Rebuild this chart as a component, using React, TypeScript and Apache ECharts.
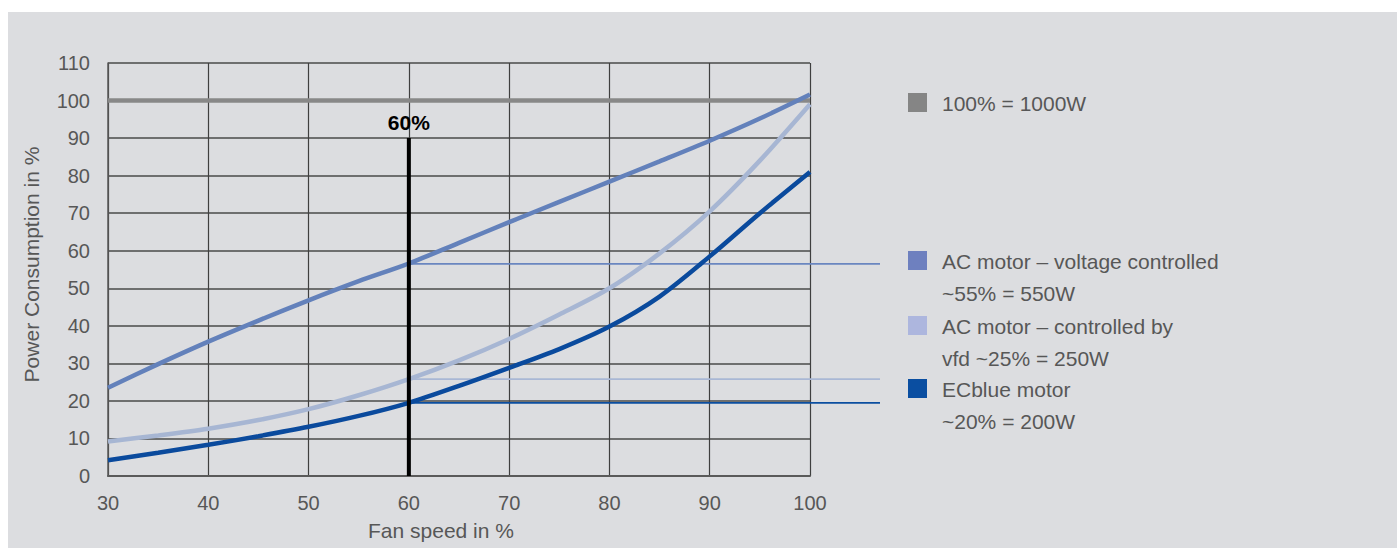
import React, { useEffect, useRef } from "react";
import * as echarts from "echarts";

const xTicks = [30, 40, 50, 60, 70, 80, 90, 100];
const speeds = [30, 35, 40, 45, 50, 55, 60, 65, 70, 75, 80, 85, 90, 95, 100];
const acVoltage = [23.5, 29.8, 35.8, 41.4, 46.8, 51.9, 56.6, 62.1, 67.6, 73, 78.4, 83.8, 89.3, 95.2, 101.6];
const acVfd = [9.2, 10.8, 12.6, 14.9, 17.8, 21.5, 25.8, 30.8, 36.5, 43, 50, 59.3, 70.5, 84, 99];
const ecBlue = [4.2, 6.2, 8.3, 10.6, 13.1, 16, 19.5, 24, 28.8, 33.8, 39.8, 47.8, 58.5, 70, 81];
const fullPower = 100;
const markSpeed = 60;
const markTop = 90;
const refLevels = { voltage: 56.5, vfd: 25.8, ec: 19.5 };
const refEnd = 107;
const legendItems = [
  { lines: ["100% = 1000W"], color: "#858585" },
  { lines: ["AC motor \u2013 voltage controlled", "~55% = 550W"], color: "#6e80bf" },
  { lines: ["AC motor \u2013 controlled by", "vfd ~25% = 250W"], color: "#adb6de" },
  { lines: ["ECblue motor", "~20% = 200W"], color: "#0a4ea1" },
];

const FONT = "'Liberation Sans', Arial, sans-serif";
const TXT = "#575757";

export default function App() {
  const ref = useRef<HTMLDivElement>(null);
  useEffect(() => {
    if (!ref.current) return;
    const chart = echarts.init(ref.current, null, { renderer: "svg" });
    const pair = (ys: number[]) => speeds.map((s, i) => [s, ys[i]]);
    const legendTops = [81, 239, 304, 367];
    const graphic: any[] = [];
    legendItems.forEach((it, i) => {
      const top = legendTops[i];
      graphic.push({
        type: "rect",
        shape: { x: 900, y: top, width: 19, height: 19 },
        style: { fill: it.color },
      });
      it.lines.forEach((ln, j) => {
        graphic.push({
          type: "text",
          x: 934,
          y: top + 10 + j * 32,
          style: {
            text: ln,
            fill: TXT,
            font: `21px ${FONT}`,
            textVerticalAlign: "middle",
            verticalAlign: "middle",
          },
        });
      });
    });

    const curve = (ys: number[], color: string, z: number) => ({
      type: "line",
      data: pair(ys),
      smooth: 0.3,
      symbol: "none",
      lineStyle: { color, width: 4.5 },
      z,
    });

    const option: any = {
      animation: false,
      textStyle: { fontFamily: FONT },
      grid: [
        { left: 100, top: 51, width: 702, height: 413 },
        { left: 100, top: 51, width: 772, height: 413 },
      ],
      xAxis: [
        {
          type: "value",
          gridIndex: 0,
          min: 30,
          max: 100,
          interval: 10,
          name: "Fan speed in %",
          nameLocation: "middle",
          nameGap: 44,
          nameTextStyle: { color: TXT, fontSize: 21, fontFamily: FONT, padding: [0, 36, 0, 0] },
          axisLine: { show: true, lineStyle: { color: "#5a5a5a", width: 2 } },
          axisTick: { show: false },
          axisLabel: {
            color: TXT,
            fontSize: 20,
            fontFamily: FONT,
            margin: 17,
            formatter: (v: number) => (xTicks.includes(v) ? String(v) : ""),
          },
          splitLine: { show: true, lineStyle: { color: "#3f3f3f", width: 1.2 } },
        },
        { type: "value", gridIndex: 1, min: 30, max: refEnd, show: false },
      ],
      yAxis: [
        {
          type: "value",
          gridIndex: 0,
          min: 0,
          max: 110,
          interval: 10,
          name: "Power Consumption in %",
          nameLocation: "middle",
          nameGap: 66,
          nameTextStyle: { color: TXT, fontSize: 21, fontFamily: FONT, padding: [0, 0, 0, 10] },
          axisLine: { show: true, lineStyle: { color: "#5a5a5a", width: 1.5 } },
          axisTick: { show: false },
          axisLabel: { color: TXT, fontSize: 20, fontFamily: FONT, margin: 18 },
          splitLine: { show: true, lineStyle: { color: "#4a4a4a", width: 1.5 } },
        },
        { type: "value", gridIndex: 1, min: 0, max: 110, show: false },
      ],
      series: [
        {
          type: "line",
          xAxisIndex: 1,
          yAxisIndex: 1,
          data: [[markSpeed, refLevels.voltage], [refEnd, refLevels.voltage]],
          symbol: "none",
          lineStyle: { color: "#6a86c0", width: 1.8 },
          z: 2,
        },
        {
          type: "line",
          xAxisIndex: 1,
          yAxisIndex: 1,
          data: [[markSpeed, refLevels.vfd], [refEnd, refLevels.vfd]],
          symbol: "none",
          lineStyle: { color: "#a9b7d5", width: 1.8 },
          z: 2,
        },
        {
          type: "line",
          xAxisIndex: 1,
          yAxisIndex: 1,
          data: [[markSpeed, refLevels.ec], [refEnd, refLevels.ec]],
          symbol: "none",
          lineStyle: { color: "#0b4ea0", width: 1.8 },
          z: 2,
        },
        {
          type: "line",
          data: [[30, fullPower], [100, fullPower]],
          symbol: "none",
          lineStyle: { color: "#888888", width: 4.5 },
          z: 3,
        },
        curve(acVfd, "#a7b6d3", 4),
        curve(acVoltage, "#6381bb", 5),
        curve(ecBlue, "#0a4a9d", 6),
        {
          type: "line",
          data: [[markSpeed, 0], [markSpeed, markTop]],
          symbol: "none",
          lineStyle: { color: "#000000", width: 4 },
          z: 7,
          markPoint: {
            symbol: "rect",
            symbolSize: [1, 1],
            itemStyle: { color: "rgba(0,0,0,0)" },
            label: {
              show: true,
              position: "top",
              distance: 5,
              formatter: "60%",
              color: "#000",
              fontWeight: "bold",
              fontSize: 21,
              fontFamily: FONT,
            },
            data: [{ coord: [markSpeed, markTop] }],
          },
        },
      ],
      graphic,
    };
    chart.setOption(option);
    return () => chart.dispose();
  }, []);
  return (
    <div
      ref={ref}
      style={{
        position: "fixed",
        left: 8,
        top: 12,
        width: 1389,
        height: 536,
        background: "#dcdde0",
      }}
    />
  );
}
